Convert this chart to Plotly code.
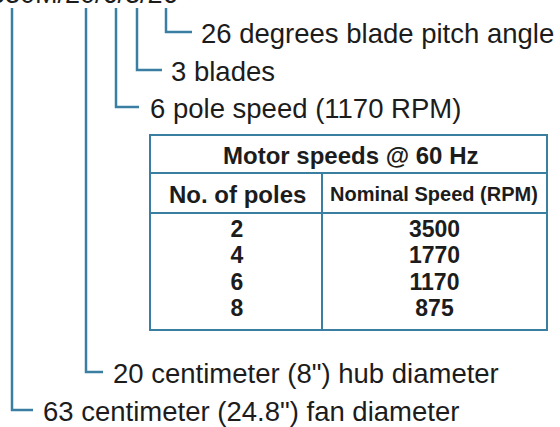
import plotly.graph_objects as go

# ---- content ----
model_code = "630M/20/6/3/26"
callout_labels = [
    "26 degrees blade pitch angle",
    "3 blades",
    "6 pole speed (1170 RPM)",
    "20 centimeter (8\") hub diameter",
    "63 centimeter (24.8\") fan diameter",
]
table_title = "Motor speeds @ 60 Hz"
col_headers = ["No. of poles", "Nominal Speed (RPM)"]
poles = [2, 4, 6, 8]
speeds = [3500, 1770, 1170, 875]

# ---- layout constants (pixel space) ----
W, H = 560, 427
BLUE = "#3a7fa2"
INK = "#1c1c1c"
FONT = "Liberation Sans, Arial, Helvetica, sans-serif"

# callout leaders: (stem x, elbow y, elbow end x, text x)
leaders = [
    (166, 32, 192, 200),
    (137, 70, 162, 170),
    (116, 107, 139, 149),
    (86, 372, 103, 112),
    (12, 410, 33, 42),
]
stem_top = 8

fig = go.Figure()

for (sx, ey, ex, tx), label in zip(leaders, callout_labels):
    fig.add_trace(go.Scatter(x=[sx, sx, ex], y=[stem_top, ey, ey], mode="lines",
                             line=dict(color=BLUE, width=2.5), hoverinfo="skip",
                             showlegend=False))
    fig.add_annotation(x=tx - 1, y=ey + 1, text=label, showarrow=False, xanchor="left",
                       yanchor="middle", font=dict(family=FONT, size=27.5, color=INK))

# clipped model code at top
fig.add_annotation(x=180, y=11, text=model_code, showarrow=False, xanchor="right",
                   yanchor="bottom", font=dict(family=FONT, size=27, color=INK))

# ---- table ----
tl, tr, tt, tb = 150, 547, 135, 330
h1, h2 = 173, 213
vx = 322
shapes = [
    dict(type="rect", x0=tl, x1=tr, y0=tt, y1=tb, line=dict(color=BLUE, width=2)),
    dict(type="line", x0=tl, x1=tr, y0=h1, y1=h1, line=dict(color=BLUE, width=2)),
    dict(type="line", x0=tl, x1=tr, y0=h2, y1=h2, line=dict(color=BLUE, width=2)),
    dict(type="line", x0=vx, x1=vx, y0=h1, y1=tb, line=dict(color=BLUE, width=2)),
]
fig.update_layout(shapes=shapes)

fig.add_annotation(x=(tl + tr) / 2 + 2, y=(tt + h1) / 2 + 1, text="<b>" + table_title + "</b>",
                   showarrow=False, font=dict(family=FONT, size=24, color=INK))
fig.add_annotation(x=(tl + vx) / 2 + 1, y=(h1 + h2) / 2 + 1, text="<b>" + col_headers[0] + "</b>",
                   showarrow=False, font=dict(family=FONT, size=24, color=INK))
fig.add_annotation(x=(vx + tr) / 2 - 1, y=(h1 + h2) / 2 + 1, text="<b>" + col_headers[1] + "</b>",
                   showarrow=False, font=dict(family=FONT, size=20, color=INK))

row0, row_h = 231, 26.5
row_y = [row0 + i * row_h for i in range(len(poles))]
fig.add_trace(go.Scatter(x=[(tl + vx) / 2 + 1] * len(poles), y=row_y, mode="text",
                         text=["<b>%d</b>" % p for p in poles],
                         textfont=dict(family=FONT, size=23, color=INK),
                         hoverinfo="skip", showlegend=False, cliponaxis=False))
fig.add_trace(go.Scatter(x=[(vx + tr) / 2] * len(speeds), y=row_y, mode="text",
                         text=["<b>%d</b>" % s for s in speeds],
                         textfont=dict(family=FONT, size=23, color=INK),
                         hoverinfo="skip", showlegend=False, cliponaxis=False))

fig.update_layout(
    width=W, height=H, margin=dict(l=0, r=0, t=0, b=0),
    paper_bgcolor="white", plot_bgcolor="white",
    xaxis=dict(range=[0, W], visible=False, fixedrange=True),
    yaxis=dict(range=[H, 0], visible=False, fixedrange=True),
)

fig.write_html("out.html", config={"displayModeBar": False},
               post_script="document.body.style.margin='0';document.body.style.overflow='hidden';")
